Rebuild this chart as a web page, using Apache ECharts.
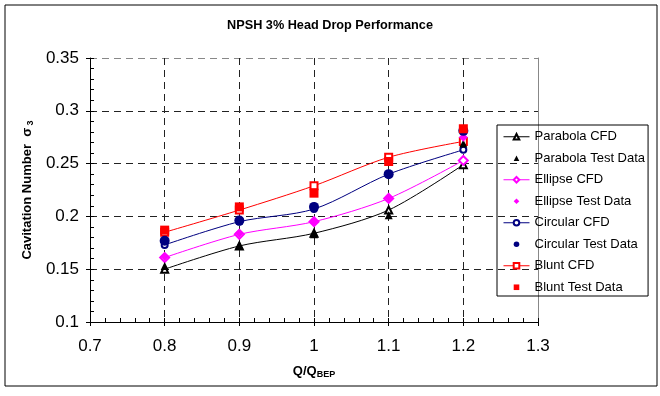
<!DOCTYPE html>
<html>
<head>
<meta charset="utf-8">
<script src="https://cdn.jsdelivr.net/npm/echarts@6/dist/echarts.min.js"></script>
<style>html,body{margin:0;padding:0;background:#fff}#c{width:660px;height:396px}</style>
</head>
<body>
<div id="c"></div>
<script>
const flow = [0.8, 0.9, 1.0, 1.1, 1.2];
const parabolaCFD  = [0.150, 0.172, 0.184, 0.206, 0.249];
const parabolaTest = [0.153, 0.173, 0.183, 0.201, 0.269];
const ellipseCFD   = [0.161, 0.183, 0.195, 0.217, 0.253];
const ellipseTest  = [0.162, 0.184, 0.195, 0.218, 0.275];
const circularCFD  = [0.173, 0.195, 0.207, 0.240, 0.263];
const circularTest = [0.177, 0.196, 0.209, 0.240, 0.281];
const bluntCFD     = [0.185, 0.206, 0.229, 0.256, 0.271];
const bluntTest    = [0.187, 0.209, 0.222, 0.252, 0.283];

const pairs = arr => flow.map((x, i) => [x, arr[i]]);
const FONT = 'Liberation Sans, Arial, sans-serif';
const fmt = v => String(Number(v.toFixed(2)));

function cfd(name, data, color, symbol, size) {
  return {
    name, type: 'line', data: pairs(data), smooth: 0.3,
    symbol, symbolSize: size, showSymbol: true,
    lineStyle: { color, width: 1 },
    itemStyle: { color, borderColor: color, borderWidth: 1 },
    xAxisIndex: 0, yAxisIndex: 0, z: 2
  };
}
function test(name, data, color, symbol, size) {
  return {
    name, type: 'line', data: pairs(data),
    symbol, symbolSize: size, showSymbol: true,
    lineStyle: { width: 0, opacity: 0 },
    itemStyle: { color, borderWidth: 0 },
    xAxisIndex: 0, yAxisIndex: 0, z: 3
  };
}

const chart = echarts.init(document.getElementById('c'), null, { renderer: 'canvas' });
const dark = '#222', grey = '#888';

chart.setOption({
  animation: false,
  backgroundColor: '#fff',
  title: {
    text: 'NPSH 3% Head Drop Performance',
    left: 'center', top: 14,
    textStyle: { fontFamily: FONT, fontSize: 12.7, fontWeight: 'bold', color: '#000' }
  },
  grid: { left: 90, right: 122, top: 58, bottom: 74 },
  legend: {
    orient: 'vertical', left: 497, top: 125,
    padding: [4, 3, 1, 6],
    itemGap: 6, itemWidth: 26, itemHeight: 7,
    borderColor: '#000', borderWidth: 1,
    lineStyle: { width: 1 },
    textStyle: { fontFamily: FONT, fontSize: 13, color: '#000', lineHeight: 15.5 },
    data: ['Parabola CFD', 'Parabola Test Data', 'Ellipse CFD', 'Ellipse Test Data',
           'Circular CFD', 'Circular Test Data', 'Blunt CFD', 'Blunt Test Data']
  },
  xAxis: [
    {
      type: 'value', min: 0.7, max: 1.3, interval: 0.1,
      name: '{a|Q/Q}{b|BEP}', nameLocation: 'middle', nameGap: 42,
      nameTextStyle: {
        rich: {
          a: { fontFamily: FONT, fontSize: 13, fontWeight: 'bold', color: '#000' },
          b: { fontFamily: FONT, fontSize: 9, fontWeight: 'bold', color: '#000', verticalAlign: 'bottom', padding: [6, 0, 0, 0] }
        }
      },
      axisLine: { show: true, onZero: false, lineStyle: { color: '#000', width: 1 } },
      axisTick: { show: true, inside: false, length: 4, lineStyle: { color: '#000' } },
      axisLabel: { fontFamily: FONT, fontSize: 17, color: '#000', margin: 16, formatter: fmt },
      splitLine: { show: true, lineStyle: { color: [dark, dark, dark, dark, dark, dark, grey], type: [7, 5], width: 1 } }
    },
    {
      type: 'value', min: 0.7, max: 1.3, interval: 0.1, position: 'bottom',
      axisLine: { show: false },
      axisTick: { show: true, inside: true, length: 4, lineStyle: { color: '#000' } },
      minorTick: { show: true, splitNumber: 5, length: 4, lineStyle: { color: '#000' } },
      axisLabel: { show: false }, splitLine: { show: false }
    }
  ],
  yAxis: [
    {
      type: 'value', min: 0.1, max: 0.35, interval: 0.05,
      name: '{a|Cavitation Number  σ}{b| 3}', nameLocation: 'middle', nameGap: 52, nameRotate: 90,
      nameTextStyle: {
        rich: {
          a: { fontFamily: FONT, fontSize: 13, fontWeight: 'bold', color: '#000' },
          b: { fontFamily: FONT, fontSize: 9, fontWeight: 'bold', color: '#000', padding: [6, 0, 0, 0] }
        }
      },
      axisLine: { show: true, onZero: false, lineStyle: { color: '#000', width: 1 } },
      axisTick: { show: true, inside: false, length: 4, lineStyle: { color: '#000' } },
      axisLabel: { fontFamily: FONT, fontSize: 17, color: '#000', margin: 11, formatter: fmt, padding: [5, 0, 0, 0] },
      splitLine: { show: true, lineStyle: { color: [dark, dark, dark, dark, dark, grey], type: [7, 5], width: 1 } }
    },
    {
      type: 'value', min: 0.1, max: 0.35, interval: 0.05, position: 'left',
      axisLine: { show: false },
      axisTick: { show: true, inside: true, length: 4, lineStyle: { color: '#000' } },
      minorTick: { show: true, splitNumber: 5, length: 4, lineStyle: { color: '#000' } },
      axisLabel: { show: false }, splitLine: { show: false }
    },
    {
      type: 'value', min: 0.1, max: 0.35, position: 'right',
      axisLine: { show: true, lineStyle: { color: grey, width: 1 } },
      axisTick: { show: false }, axisLabel: { show: false }, splitLine: { show: false }
    }
  ],
  graphic: [{
    type: 'rect', shape: { x: 5, y: 5, width: 652, height: 381 },
    style: { fill: 'none', stroke: '#000', lineWidth: 1 }, silent: true, z: -1
  }],
  series: [
    cfd('Parabola CFD', parabolaCFD, '#000000', 'emptyTriangle', 7),
    test('Parabola Test Data', parabolaTest, '#000000', 'triangle', 8),
    cfd('Ellipse CFD', ellipseCFD, '#FF00FF', 'emptyDiamond', 9),
    test('Ellipse Test Data', ellipseTest, '#FF00FF', 'diamond', 9),
    cfd('Circular CFD', circularCFD, '#000080', 'emptyCircle', 6),
    test('Circular Test Data', circularTest, '#000080', 'circle', 10),
    cfd('Blunt CFD', bluntCFD, '#FF0000', 'emptyRect', 7),
    test('Blunt Test Data', bluntTest, '#FF0000', 'rect', 9)
  ]
});
</script>
</body>
</html>
